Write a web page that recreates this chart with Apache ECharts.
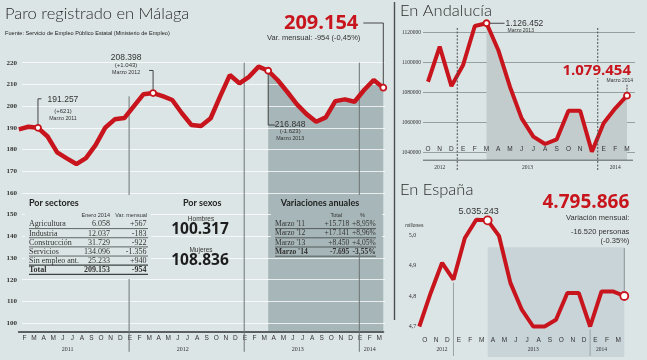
<!DOCTYPE html>
<html><head><meta charset="utf-8">
<script src="https://cdn.jsdelivr.net/npm/echarts@6/dist/echarts.min.js"></script>
<style>html,body{margin:0;padding:0;background:#dce5e5;}#c{width:647px;height:360px;}</style>
</head><body><div id="c"></div>
<script>
// ---------------- DATA ----------------
// Málaga: paro registrado (miles), enero 2011 - marzo 2014
const malagaMonths = ['E','F','M','A','M','J','J','A','S','O','N','D','E','F','M','A','M','J','J','A','S','O','N','D','E','F','M','A','M','J','J','A','S','O','N','D','E','F','M'];
const malagaParo = [189.3,190.5,190.0,186.0,178.7,175.9,173.3,176.0,182.0,190.0,193.9,194.5,
                    200.0,205.5,206.0,204.6,202.8,196.7,191.3,190.8,194.4,204.6,214.3,210.5,
                    213.5,218.2,216.3,211.9,206.5,200.8,196.3,192.8,194.8,202.3,203.1,202.0,
                    207.4,212.0,208.5];
const malagaYTicks = [100,110,120,130,140,150,160,170,180,190,200,210,220];
const malagaMarked = [2,14,26,38];
const malagaShadeFrom = 26;
const malagaYears = [['2011',5.5],['2012',17.5],['2013',29.5],['2014',37]];
const malagaBreaks = [11.5,23.5,35.5];
const malagaNotes = [['191.257','(+621)','Marzo 2011'],['208.398','(+1.043)','Marzo 2012'],['216.848','(-1.623)','Marzo 2013']];
const malagaLast = ['209.154','Var. mensual: -954 (-0,45%)'];

// Andalucía: paro registrado, octubre 2012 - marzo 2014
const andaMonths = ['O','N','D','E','F','M','A','M','J','J','A','S','O','N','D','E','F','M'];
const andaParo = [1087300,1110700,1084400,1098500,1124500,1126300,1108500,1084000,1062900,1050700,1045800,1048900,1068000,1068000,1040700,1059600,1069600,1078000];
const andaMarked = [5,17];
const andaShadeFrom = 5;
const andaYears = [['2012',1],['2013',8.5],['2014',16]];
const andaBreaks = [2.5,14.5];
const andaNotes = [['1.126.452','Marzo 2013'],['1.079.454','Marzo 2014']];

// España: paro registrado (millones), septiembre 2012 - marzo 2014
const espMonths = ['S','O','N','D','E','F','M','A','M','J','J','A','S','O','N','D','E','F','M'];
const espParo = [4.700,4.810,4.909,4.854,4.990,5.050,5.048,4.997,4.843,4.755,4.700,4.700,4.722,4.810,4.810,4.700,4.815,4.815,4.800];
const espMarked = [6,18];
const espShadeFrom = 6;
const espYears = [['2012',2],['2013',10],['2014',16]];
const espBreaks = [3,15];
const espNotes = ['5.035.243','4.795.866','Variación mensual:','-16.520 personas','(-0.35%)'];

// Tablas
const sectoresHead = ['Enero 2014','Var. mensual'];
const sectores = [['Agricultura','6.058','+567'],['Industria','12.037','-183'],['Construcción','31.729','-922'],['Servicios','134.096','-1.356'],['Sin empleo ant.','25.233','+940'],['Total','209.153','-954']];
const sexos = [['Hombres','100.317'],['Mujeres','108.836']];
const variacionesHead = ['Total','%'];
const variaciones = [["Marzo '11",'+15.718','+8,95%'],["Marzo '12",'+17.141','+8,96%'],["Marzo '13",'+8.450','+4,05%'],["Marzo '14",'-7.695','-3,55%']];

// ---------------- STYLE ----------------
const BG = '#dce5e5', RED = '#c8151d', INK = '#333333';
const SHADE_M = '#a7b6b8', SHADE_A = '#c3cccd', SHADE_E = '#c8d4d8';
const SANS = 'Liberation Sans', SERIF = 'Liberation Serif';

function markerOpts(marked, size){
  return {
    symbol: (v, p) => marked.includes(p.dataIndex) ? 'circle' : 'none',
    symbolSize: size, showSymbol: true,
    itemStyle: {color:'#ffffff', borderColor: RED, borderWidth: 1.8}
  };
}

const chart = echarts.init(document.getElementById('c'), null, {renderer:'canvas'});
const option = {
  backgroundColor: BG,
  animation: false,
  grid: [
    {left:18.8, right:263.7, top:62.7, bottom:28.2},   // 0 Málaga data
    {left:22, right:262, top:62.7, bottom:36.9},       // 1 Málaga gridlines
    {left:423, right:12, top:32.7, bottom:207.3},      // 2 Andalucía gridlines
    {left:428, right:20, top:17.7, bottom:199.8},      // 3 Andalucía data
    {left:419.3, right:22.7, top:204.5, bottom:3}      // 4 España data
  ],
  xAxis: [
    {gridIndex:0, type:'value', min:0, max:malagaMonths.length-1, interval:1,
     axisLine:{show:true, onZero:false, lineStyle:{color:'#5b6162', width:2}},
     axisTick:{show:false}, splitLine:{show:false},
     axisLabel:{formatter:v => v===0 ? '' : malagaMonths[v], color:INK, fontSize:6.5, fontFamily:SANS,
                margin:6, verticalAlign:'middle', padding:[0,8,0,0], showMinLabel:true, showMaxLabel:true}},
    {gridIndex:1, type:'value', show:false},
    {gridIndex:2, type:'value', show:false},
    {gridIndex:3, type:'value', min:0, max:andaMonths.length-1, interval:1,
     axisLine:{show:false}, axisTick:{show:false}, splitLine:{show:false},
     axisLabel:{inside:true, formatter:v => andaMonths[v], color:INK, fontSize:6.5, fontFamily:SANS,
                margin:11, verticalAlign:'middle', showMinLabel:true, showMaxLabel:true}},
    {gridIndex:4, type:'value', min:0, max:espMonths.length-1, interval:1,
     axisLine:{show:false}, axisTick:{show:false}, splitLine:{show:false},
     axisLabel:{inside:true, formatter:v => v===0 ? '' : espMonths[v], color:INK, fontSize:6.5, fontFamily:SANS,
                margin:17, verticalAlign:'middle', padding:[0,12,0,0], showMinLabel:true, showMaxLabel:true}}
  ],
  yAxis: [
    {gridIndex:0, type:'value', min:96, max:220, show:false},
    {gridIndex:1, type:'value', min:malagaYTicks[0], max:malagaYTicks[malagaYTicks.length-1], interval:10, z:1,
     axisLine:{show:false}, axisTick:{show:false},
     axisLabel:{color:INK, fontSize:7, fontWeight:'bold', fontFamily:SERIF, margin:5},
     splitLine:{lineStyle:{color:'rgba(255,255,255,0.75)', width:1}}},
    {gridIndex:2, type:'value', min:1040000, max:1120000, interval:20000,
     axisLine:{show:false}, axisTick:{show:false},
     axisLabel:{color:INK, fontSize:5.5, fontFamily:SERIF, margin:2, formatter:v => String(v)},
     splitLine:{lineStyle:{color:'#848e8f', width:0.8}}},
    {gridIndex:3, type:'value', min:1035000, max:1130000, show:false},
    {gridIndex:4, type:'value', min:4.6, max:5.1, interval:0.1,
     axisLine:{show:false}, axisTick:{show:false}, splitLine:{show:false},
     axisLabel:{color:INK, fontSize:6, fontFamily:SERIF, margin:3,
                formatter:v => (v < 4.65 || v > 5.05) ? '' : v.toFixed(1).replace('.', ','),
                showMinLabel:true, showMaxLabel:true}}
  ],
  series: [
    {type:'line', xAxisIndex:0, yAxisIndex:0, z:0, silent:true, symbol:'none',
     data: malagaParo.slice(malagaShadeFrom).map((v,k)=>[k+malagaShadeFrom, v]),
     lineStyle:{width:0}, areaStyle:{color:SHADE_M, opacity:1}},
    Object.assign({type:'line', xAxisIndex:0, yAxisIndex:0, z:3,
     data: malagaParo.map((v,i)=>[i, v]),
     lineStyle:{color:RED, width:4.5}}, markerOpts(malagaMarked, 6)),
    {type:'line', xAxisIndex:3, yAxisIndex:3, z:0, silent:true, symbol:'none',
     data: andaParo.slice(andaShadeFrom).map((v,k)=>[k+andaShadeFrom, v]),
     lineStyle:{width:0}, areaStyle:{color:SHADE_A, opacity:1}},
    Object.assign({type:'line', xAxisIndex:3, yAxisIndex:3, z:3,
     data: andaParo.map((v,i)=>[i, v]),
     lineStyle:{color:RED, width:4}}, markerOpts(andaMarked, 6)),
    Object.assign({type:'line', xAxisIndex:4, yAxisIndex:4, z:3,
     data: espParo.map((v,i)=>[i, v]),
     lineStyle:{color:RED, width:4},
     markArea:{silent:true, z:0, itemStyle:{color:SHADE_E},
       data:[[{xAxis:espShadeFrom, yAxis:4.96},{xAxis:espParo.length-1, yAxis:4.6}]]}}, markerOpts(espMarked, 8))
  ]
};
chart.setOption(option);

// ---------------- ANNOTATIONS (positions from the chart scales) ----------------
const P = (s, x, y) => chart.convertToPixel({seriesIndex:s}, [x, y]);
const G = [];
function L(x1,y1,x2,y2,stroke,w,dash,z){ G.push({type:'line', z:z||6, silent:true, shape:{x1,y1,x2,y2}, style:{stroke, lineWidth:w||1, lineDash:dash||null}}); }
function R(x,y,w,h,fill,z){ G.push({type:'rect', z:z||5, silent:true, shape:{x,y,width:w,height:h}, style:{fill}}); }
function T(x,y,text,o){ o=o||{}; G.push({type:'text', z:o.z||10, silent:true, x, y, scaleX:o.sx||1,
  style:{x:0, y:0, text, fill:o.fill||INK, fontSize:o.size||8, fontFamily:o.family||SANS, fontWeight:o.weight||'normal',
         align:o.align||'left', verticalAlign:o.va||'middle', backgroundColor:o.bg||null, padding:o.pad||0}}); }

// Titles
T(5, 14, 'Paro registrado en Málaga', {size:16.5, family:'Lato', weight:300, fill:'#2a2a2a'});
T(5, 33, 'Fuente: Servicio de Empleo Público Estatal (Ministerio de Empleo)', {size:5.6, fill:'#222'});
T(400, 11, 'En Andalucía', {size:16.5, family:'Lato', weight:300, fill:'#2a2a2a'});
T(400, 190, 'En España', {size:16.5, family:'Lato', weight:300, fill:'#2a2a2a'});
// panel rule
L(394.5, 2, 394.5, 320, '#4a4f50', 1.4, null, 6);

// ---- Málaga ----
const axisY = P(1, 0, 96)[1];
malagaBreaks.forEach((b, k) => {
  const x = P(1, b, 96)[0];
  const top = k === 0 ? P(1, b, 204.5)[1] : P(1, b, 220)[1];
  L(x, top, x, axisY + 20, '#6d7475', 1, null, 1);
});
malagaYears.forEach(([lab, idx]) => { T(P(1, idx, 96)[0] - 4, axisY + 17.5, lab, {size:6, family:SERIF, align:'center'}); });
const m = malagaMarked.map(i => P(1, i, malagaParo[i]));
// 2011
L(m[0][0], m[0][1]-3.5, m[0][0], m[0][1]-29, '#333', 0.9); L(m[0][0], m[0][1]-29, m[0][0]+3.5, m[0][1]-29, '#333', 0.9);
T(m[0][0]+25, m[0][1]-28, malagaNotes[0][0], {size:8.5, align:'center'});
T(m[0][0]+25, m[0][1]-16.5, malagaNotes[0][1], {size:6, align:'center'});
T(m[0][0]+25, m[0][1]-9.5, malagaNotes[0][2], {size:5.3, align:'center'});
// 2012
L(m[1][0], m[1][1]-3.5, m[1][0], m[1][1]-22.6, '#333', 0.9); L(m[1][0]-4, m[1][1]-22.6, m[1][0], m[1][1]-22.6, '#333', 0.9);
T(m[1][0]-27, m[1][1]-35.3, malagaNotes[1][0], {size:8.5, align:'center'});
T(m[1][0]-27, m[1][1]-27.6, malagaNotes[1][1], {size:6, align:'center'});
T(m[1][0]-27, m[1][1]-20.6, malagaNotes[1][2], {size:5.3, align:'center'});
// 2013
L(m[2][0], m[2][1]+3.5, m[2][0], m[2][1]+54.3, '#333', 0.9); L(m[2][0], m[2][1]+54.3, m[2][0]+7, m[2][1]+54.3, '#333', 0.9);
T(m[2][0]+22, m[2][1]+54.3, malagaNotes[2][0], {size:8.5, align:'center'});
T(m[2][0]+22, m[2][1]+61, malagaNotes[2][1], {size:6, align:'center'});
T(m[2][0]+22, m[2][1]+67.6, malagaNotes[2][2], {size:5.3, align:'center'});
// 2014
L(m[3][0], m[3][1]-3.5, m[3][0], 23, '#333', 0.9); L(m[3][0]-20, 23, m[3][0], 23, '#333', 0.9);
T(m[3][0]-25, 23, malagaLast[0], {size:20, family:'Open Sans', weight:'bold', fill:RED, align:'right'});
T(m[3][0]-23, 37.7, malagaLast[1], {size:7.5, align:'right'});

// Por sectores table
R(25, 195, 126, 84, BG, 5);
T(29, 202.7, 'Por sectores', {size:9, family:'Lato', weight:'bold', fill:'#222'});
T(110, 215, sectoresHead[0], {size:5.5, align:'right'});
T(147, 215, sectoresHead[1], {size:5.5, align:'right'});
sectores.forEach((r, k) => {
  const y = 224.3 + k*9.15, bold = k === sectores.length-1;
  const o = {size:8, family:SERIF, weight: bold ? 'bold' : 'normal'};
  T(29, y, r[0], o); T(110, y, r[1], Object.assign({align:'right'}, o)); T(146.5, y, r[2], Object.assign({align:'right'}, o));
  L(29, y+4.3, 148, y+4.3, '#3d4242', bold || k === sectores.length-2 ? 1.2 : 0.8);
});
// Por sexos
T(183, 202.7, 'Por sexos', {size:9, family:'Lato', weight:'bold', fill:'#222'});
sexos.forEach((r, k) => {
  T(201, 219 + k*31, r[0], {size:6.5, align:'center'});
  T(200, 229.8 + k*31, r[1], {size:15.5, family:'Open Sans', weight:'bold', fill:'#1d1d1d', align:'center'});
});
// Variaciones anuales
R(271, 195, 111, 62, SHADE_M, 5);
T(280.7, 203.3, 'Variaciones anuales', {size:9, family:'Lato', weight:'bold', fill:'#222'});
T(342, 215, variacionesHead[0], {size:5.5, align:'right'});
T(365, 215, variacionesHead[1], {size:5.5, align:'right'});
variaciones.forEach((r, k) => {
  const y = 224.3 + k*9.2, bold = k === variaciones.length-1;
  const o = {size:7.5, family:SERIF, weight: bold ? 'bold' : 'normal'};
  T(275, y, r[0], o); T(349.3, y, r[1], Object.assign({align:'right'}, o)); T(375.7, y, r[2], Object.assign({align:'right'}, o));
  L(275, y+4.3, 376, y+4.3, '#3d4242', 0.8);
});

// ---- Andalucía ----
const aBottom = P(3, 0, 1035000)[1];
L(423, aBottom, 633, aBottom, '#4a4f50', 0.9, null, 6);
andaBreaks.forEach(b => { const x = P(3, b, 1035000)[0]; L(x, 28, x, aBottom + 10, '#4a4f50', 1, [2,1.5], 6); });
andaYears.forEach(([lab, idx]) => { T(P(3, idx, 1035000)[0], aBottom + 7, lab, {size:5.5, family:SERIF, align:'center'}); });
const a = andaMarked.map(i => P(3, i, andaParo[i]));
L(a[0][0]+3.5, a[0][1], a[0][0]+18, a[0][1], '#333', 0.9);
T(a[0][0]+19, a[0][1], andaNotes[0][0], {size:8.5});
T(a[0][0]+21, a[0][1]+7.4, andaNotes[0][1], {size:5});
T(a[1][0]+4, a[1][1]-25, andaNotes[1][0], {size:15, family:'Open Sans', weight:'bold', fill:RED, align:'right', bg:BG, pad:[0,0,0,2], z:11});
T(a[1][0]+6, a[1][1]-15, andaNotes[1][1], {size:5, align:'right', bg:BG, z:11});
L(a[1][0], a[1][1]-11, a[1][0], a[1][1]-4, '#333', 0.9, [2,1]);

// ---- España ----
const eBottom = P(4, 0, 4.6)[1];
espBreaks.forEach(b => { const p = P(4, b, espParo[b]); L(p[0], p[1]+3, p[0], eBottom-1, '#9aa4a5', 1, null, 1); });
espYears.forEach(([lab, idx]) => { T(P(4, idx, 4.6)[0], eBottom - 7.7, lab, {size:5.5, family:SERIF, align:'center'}); });
const e = espMarked.map(i => P(4, i, espParo[i]));
T(e[0][0]-9, e[0][1]-9, espNotes[0], {size:9, align:'center'});
T(P(4, 0, 5.0)[0]-5, P(4, 0, 5.0)[1]-9, 'millones', {size:5, align:'center'});
T(629.3, 202.3, espNotes[1], {size:19, family:'Open Sans', weight:'bold', fill:RED, align:'right'});
T(629.3, 217.7, espNotes[2], {size:7.5, align:'right'});
T(629.3, 231.7, espNotes[3], {size:7.5, align:'right'});
T(629.3, 241, espNotes[4], {size:7.5, align:'right'});
L(e[1][0], 248, e[1][0], e[1][1]-4.5, '#8a9192', 1);

chart.setOption({graphic: G});
</script></body></html>
